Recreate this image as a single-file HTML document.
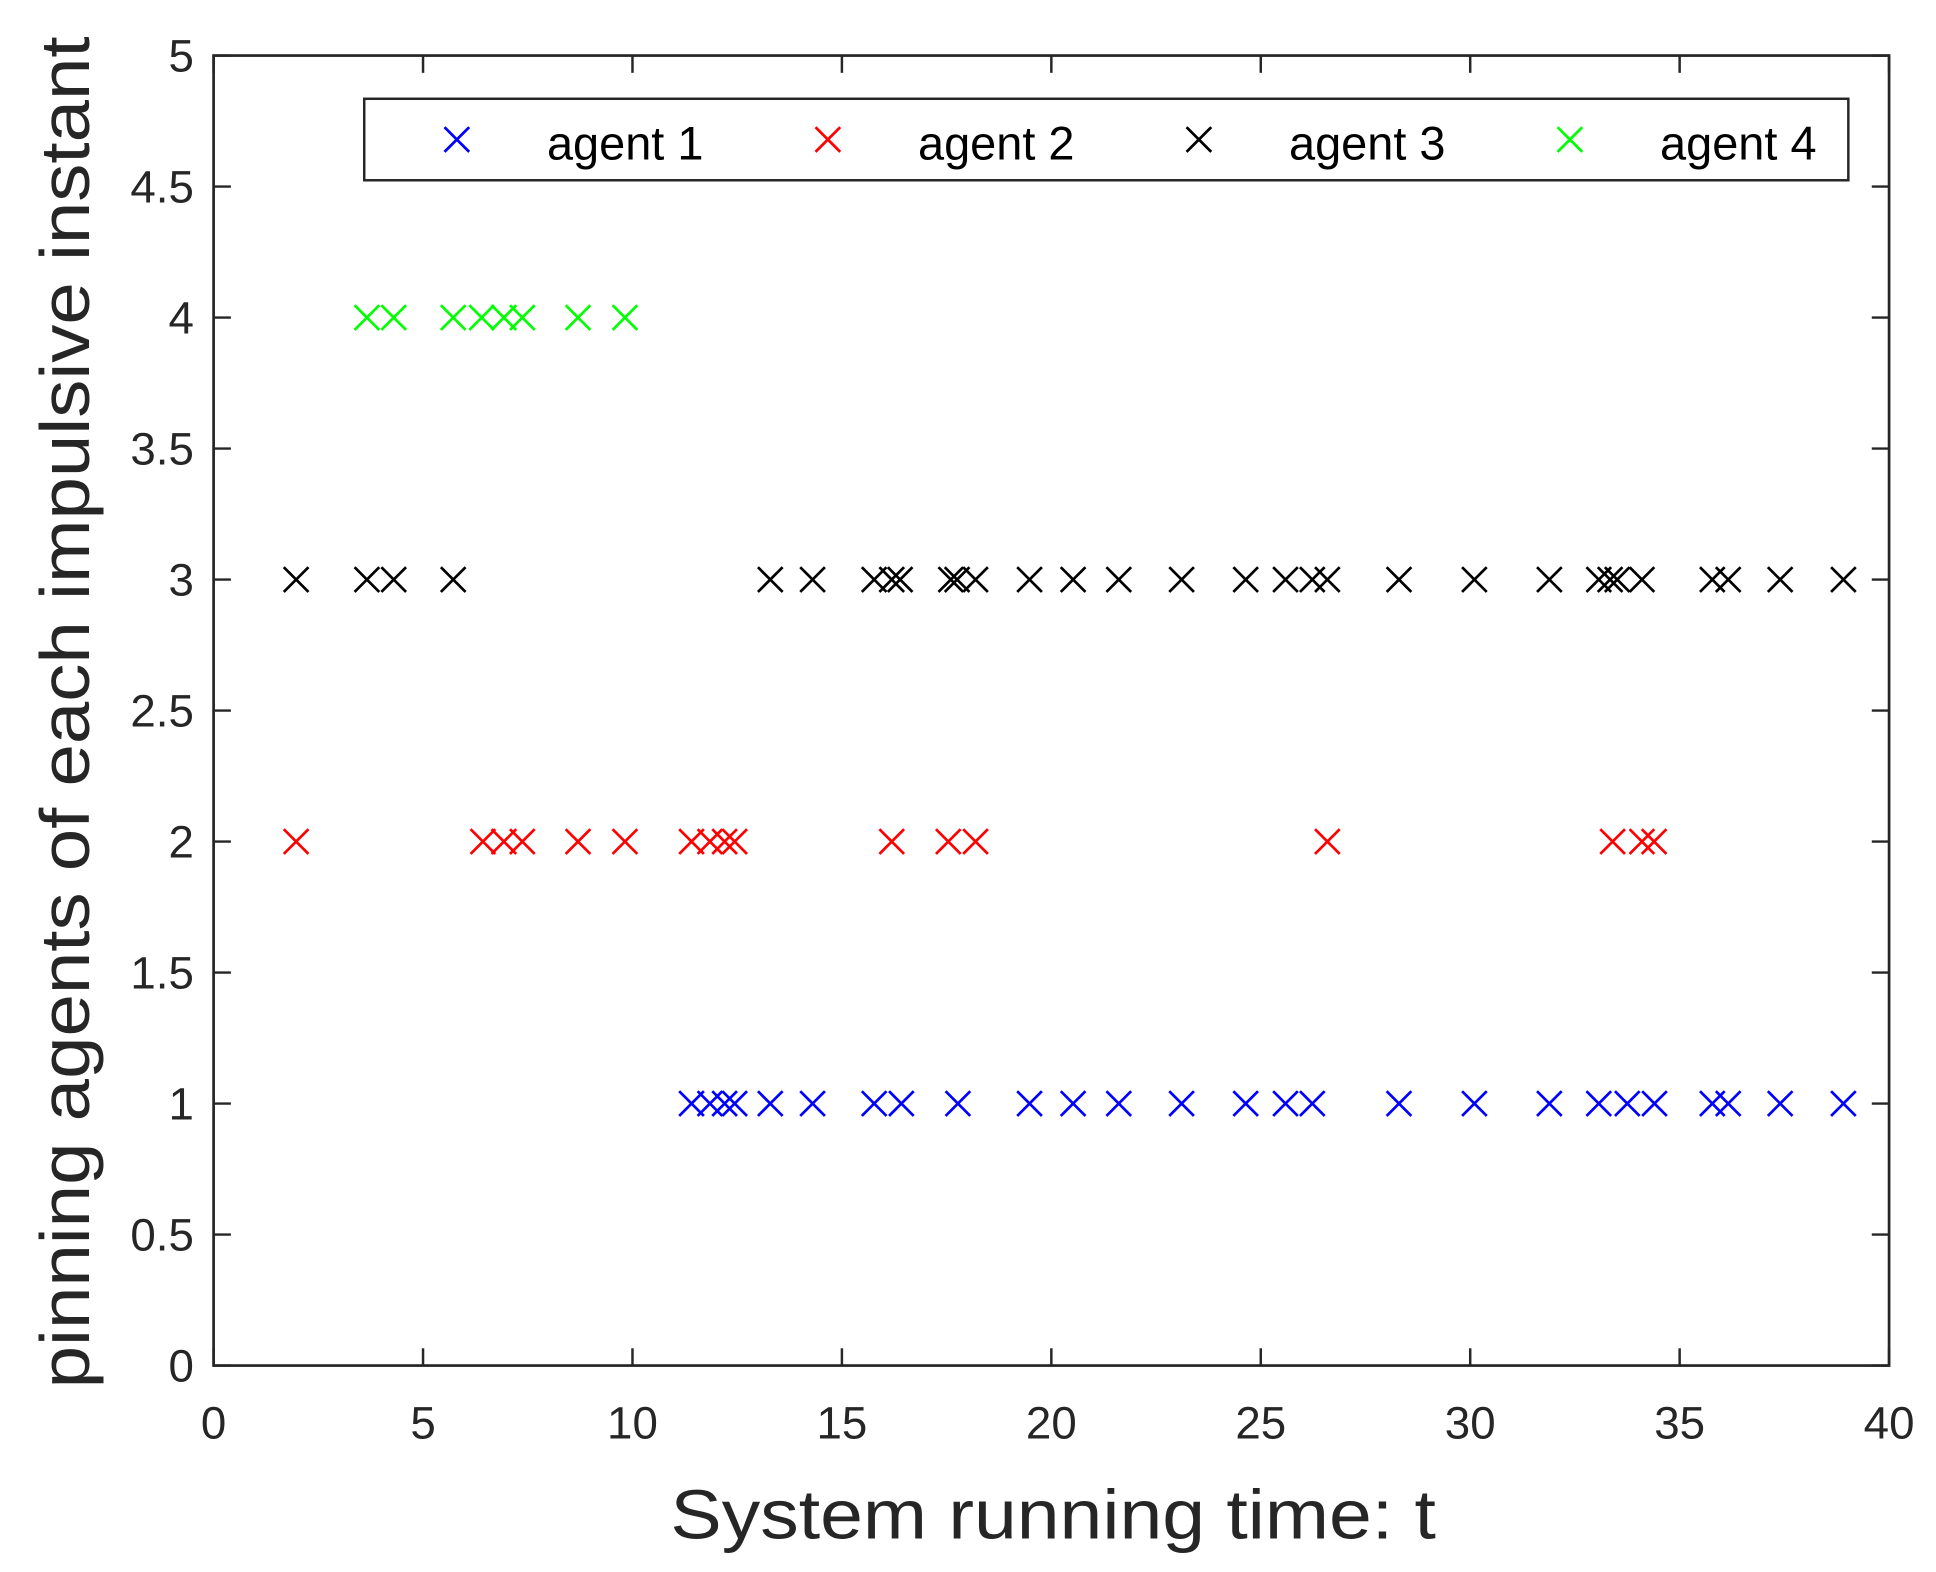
<!DOCTYPE html>
<html><head><meta charset="utf-8"><style>html,body{margin:0;padding:0;background:#fff}svg{display:block}</style></head>
<body>
<svg id="chart" width="1936" height="1572" viewBox="0 0 1568 1273.2" xmlns="http://www.w3.org/2000/svg" font-family="Liberation Sans, Arial, sans-serif">
<rect x="0" y="0" width="1568" height="1273.2" fill="#fff"/>
<g id="axes"></g>
<g id="marks"></g>
<g id="legend"></g>
</svg>
<script>
const xTicks = [0,5,10,15,20,25,30,35,40];
const yTicks = [0,0.5,1,1.5,2,2.5,3,3.5,4,4.5,5];
const yTickLabels = ["0","0.5","1","1.5","2","2.5","3","3.5","4","4.5","5"];
const agent1 = [11.41,11.85,12.20,12.44,13.29,14.30,15.77,16.42,17.77,19.48,20.52,21.61,23.11,24.64,25.59,26.23,28.30,30.10,31.89,33.07,33.75,34.40,35.78,36.16,37.40,38.91];
const agent2 = [1.97,6.43,6.93,7.37,8.70,9.82,11.41,11.85,12.20,12.44,16.19,17.54,18.19,26.59,33.40,34.10,34.39];
const agent3 = [1.97,3.66,4.30,5.72,13.29,14.30,15.77,16.19,16.39,17.60,17.75,18.19,19.48,20.52,21.61,23.11,24.64,25.59,26.23,26.59,28.30,30.10,31.89,33.07,33.34,33.51,34.10,35.78,36.16,37.40,38.91];
const agent4 = [3.66,4.30,5.72,6.40,6.93,7.37,8.70,9.82];
const agentLevels = [1,2,3,4];
const seriesNames = ["agent 1","agent 2","agent 3","agent 4"];
const seriesColors = ["#0000ff","#ff0000","#000000","#00ff00"];

const NS="http://www.w3.org/2000/svg";
const L=173,R=1530,T=45,B=1106;
const xs=v=>L+(v-0)/(40-0)*(R-L);
const ys=v=>B-(v-0)/(5-0)*(B-T);
function mk(tag,attrs,parent){const e=document.createElementNS(NS,tag);for(const k in attrs)e.setAttribute(k,attrs[k]);parent.appendChild(e);return e;}
const axes=document.getElementById('axes'),marks=document.getElementById('marks'),leg=document.getElementById('legend');
const ax="#262626";
let e=mk('rect',{x:L,y:T,width:R-L,height:B-T,fill:'none',stroke:ax,'stroke-width':2.2},axes);


xTicks.forEach(v=>{
  const x=xs(v);
  let t=mk('line',{x1:x,y1:B,x2:x,y2:B-14,stroke:ax,'stroke-width':2},axes);
  
  
  t=mk('line',{x1:x,y1:T,x2:x,y2:T+14,stroke:ax,'stroke-width':2},axes);
  
  
  const tx=mk('text',{x:x,y:B+59,'font-size':37,'text-anchor':'middle',fill:ax},axes);
  tx.textContent=String(v);
  
  
});
yTicks.forEach((v,i)=>{
  const y=ys(v);
  let t=mk('line',{x1:L,y1:y,x2:L+14,y2:y,stroke:ax,'stroke-width':2},axes);
  
  
  t=mk('line',{x1:R,y1:y,x2:R-14,y2:y,stroke:ax,'stroke-width':2},axes);
  
  
  const tx=mk('text',{x:L-16,y:y+13,'font-size':37,'text-anchor':'end',fill:ax},axes);
  tx.textContent=yTickLabels[i];
  
  
});
let xl=mk('text',{x:853,y:1246,'font-size':56,'text-anchor':'middle',fill:ax,textLength:620,lengthAdjust:'spacingAndGlyphs'},axes);
xl.textContent='System running time: t';


let yl=mk('text',{x:0,y:0,'font-size':56,'text-anchor':'middle',fill:ax,transform:'translate(72,577) rotate(-90)',textLength:1095,lengthAdjust:'spacingAndGlyphs'},axes);
yl.textContent='pinning agents of each impulsive instant';



function cross(cx,cy,color,parent){
  const g=mk('g',{},parent);
  const h=10;
  mk('line',{x1:cx-h,y1:cy-h,x2:cx+h,y2:cy+h,stroke:color,'stroke-width':2.2},g);
  mk('line',{x1:cx-h,y1:cy+h,x2:cx+h,y2:cy-h,stroke:color,'stroke-width':2.2},g);
  return g;
}
const allSeries=[agent1,agent2,agent3,agent4];
allSeries.forEach((arr,si)=>{
  arr.forEach(t=>{
    const g=cross(xs(t),ys(agentLevels[si]),seriesColors[si],marks);
    
    
  });
});
let lb=mk('rect',{x:295,y:80,width:1202,height:66,fill:'#fff',stroke:ax,'stroke-width':2},leg);


seriesNames.forEach((n,i)=>{
  const g=mk('g',{},leg);
  
  
  const mx=370+i*300.5;
  cross(mx,113,seriesColors[i],g);
  const tx=mk('text',{x:mx+73,y:129,'font-size':38,fill:'#000'},g);
  tx.textContent=n;
});
</script>
</body></html>
